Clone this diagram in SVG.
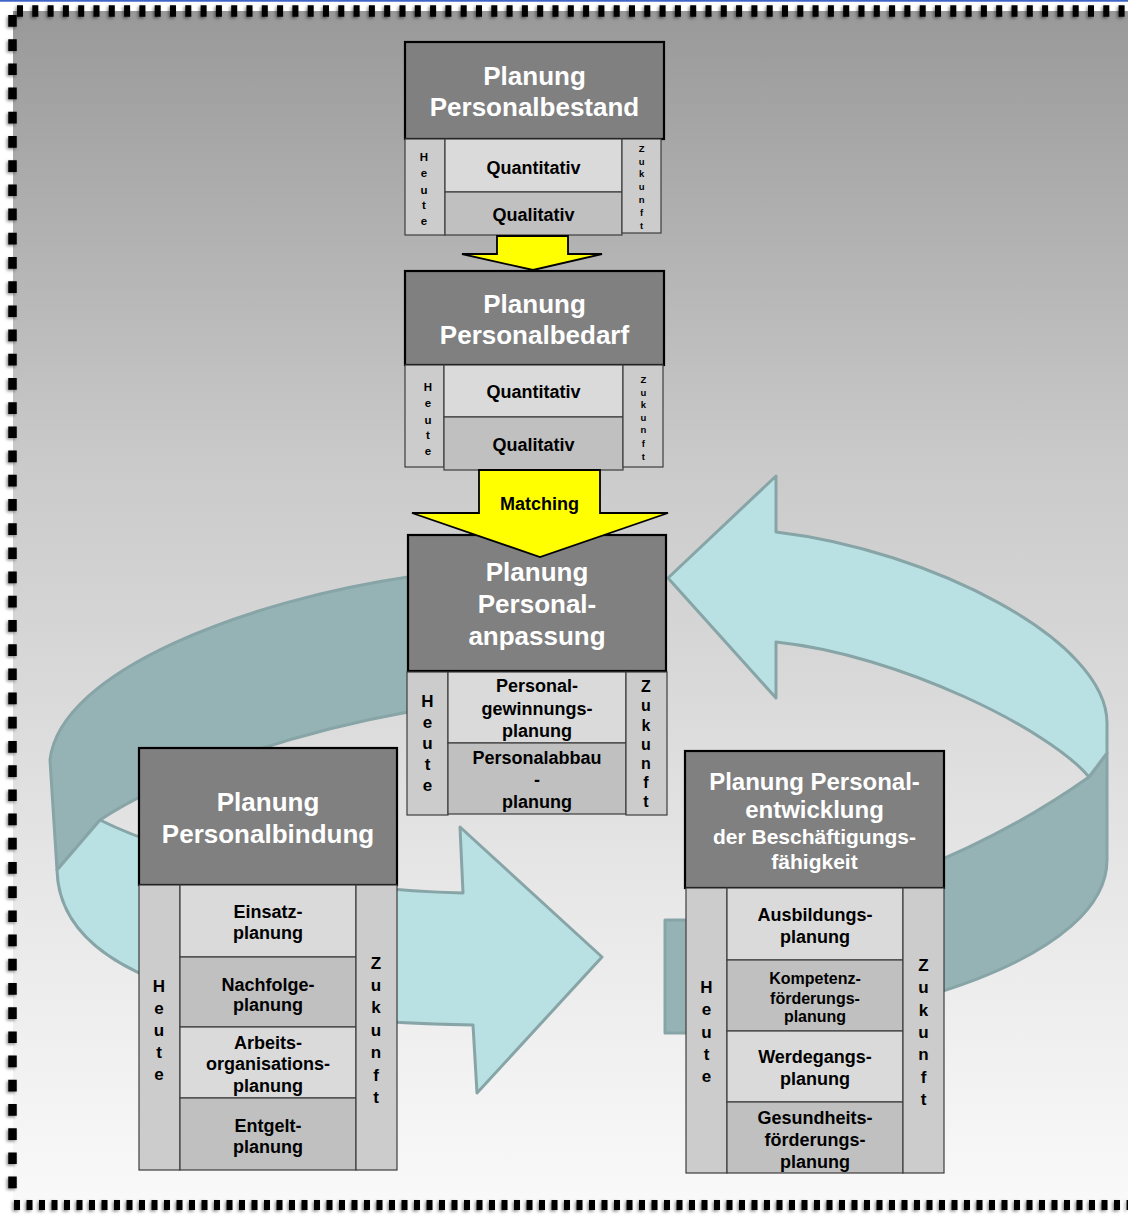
<svg xmlns="http://www.w3.org/2000/svg" width="1128" height="1215" viewBox="0 0 1128 1215">
<defs>
<linearGradient id="bg" x1="0" y1="0" x2="0" y2="1">
<stop offset="0" stop-color="#999999"/>
<stop offset="0.38" stop-color="#cacaca"/>
<stop offset="0.75" stop-color="#e8e8e8"/>
<stop offset="1" stop-color="#f9f9f9"/>
</linearGradient>
<filter id="sh" x="-5%" y="-5%" width="110%" height="110%">
<feDropShadow dx="-1.5" dy="1.5" stdDeviation="1.5" flood-color="#000" flood-opacity="0.45"/>
</filter>
</defs>
<style>
.hdr{fill:#808080;stroke:#000;stroke-width:2.2}
.col{fill:#cccccc;stroke:#3c3c3c;stroke-width:1.2}
.lt{fill:#dadada;stroke:#3c3c3c;stroke-width:1.2}
.dk{fill:#c0c0c0;stroke:#3c3c3c;stroke-width:1.2}
text{font-family:"Liberation Sans",Arial,Helvetica,sans-serif;font-weight:bold;text-anchor:middle}
.ht{fill:#ffffff;font-size:26px}
.ct{fill:#000;font-size:18px}
.vs{fill:#000;font-size:11.5px}
.vz{fill:#000;font-size:9.5px}
.vb{fill:#000;font-size:17px}
.bdk{fill:#95b3b5;stroke:#87a4a6;stroke-width:3;stroke-linejoin:round}
.blt{fill:#b9e0e3;stroke:#87a4a6;stroke-width:3;stroke-linejoin:round}
.yel{fill:#ffff00;stroke:#000;stroke-width:1.8;stroke-linejoin:miter}
.brd{stroke:#000;fill:none}
</style>

<rect x="0" y="0" width="1128" height="1215" fill="#ffffff"/>
<line x1="0" y1="0.8" x2="1128" y2="0.8" stroke="#3f66c6" stroke-width="1.8"/>
<rect x="13" y="11" width="1120" height="1190" fill="url(#bg)"/>
<g id="frame" filter="url(#sh)">
<line class="brd" x1="17" y1="11" x2="1128" y2="11" stroke-width="11.5" stroke-dasharray="6 9.3"/>
<line class="brd" x1="12.5" y1="15" x2="12.5" y2="1200" stroke-width="8.5" stroke-dasharray="11.7 12.5"/>
<line class="brd" x1="14" y1="1205" x2="1128" y2="1205" stroke-width="10" stroke-dasharray="6 6.5"/>
</g>

<g id="connectors-ribbons">
<path class="bdk" d="M 450 572 L 408 577 C 250 600 60 670 50 760 L 57 870 L 100 820 C 160 780 280 735 408 712 L 450 706 Z"/>
<path class="blt" d="M 100 820 C 180 860 330 890 463 893 L 460 827 L 602 957 L 477 1093 L 473 1025 C 300 1022 60 1000 57 870 Z"/>
<path class="bdk" d="M 1107 753 L 1107 860 C 1107 955 900 1025 686 1033 L 665 1033 L 665 920 L 686 920 C 850 915 1000 840 1089 777 Z"/>
<path class="blt" d="M 668 578 L 776 476 L 776 532 C 930 550 1107 640 1107 723 L 1107 753 L 1089 777 C 1050 730 900 655 776 642 L 776 698 Z"/>
</g>

<g id="n-bestand">
<rect class="hdr" x="405" y="42" width="259" height="97"/>
<text class="ht" x="534.5" y="85">Planung</text>
<text class="ht" x="534.5" y="116">Personalbestand</text>
<rect class="col" x="405" y="139" width="40" height="96"/>
<rect class="lt" x="445" y="139" width="177" height="53"/>
<rect class="dk" x="445" y="192" width="177" height="43"/>
<rect class="col" x="622" y="139" width="39" height="94"/>
<text class="ct" x="533.5" y="173.5">Quantitativ</text>
<text class="ct" x="533.5" y="220.5">Qualitativ</text>
<text class="vs"><tspan x="424" y="161">H</tspan><tspan x="424" y="177">e</tspan><tspan x="424" y="193.5">u</tspan><tspan x="424" y="209">t</tspan><tspan x="424" y="225">e</tspan></text>
<text class="vz"><tspan x="641.7" y="151.7">Z</tspan><tspan x="641.7" y="164.5">u</tspan><tspan x="641.7" y="177.3">k</tspan><tspan x="641.7" y="190">u</tspan><tspan x="641.7" y="203">n</tspan><tspan x="641.7" y="216">f</tspan><tspan x="641.7" y="229">t</tspan></text>
</g>

<g id="n-bedarf">
<rect class="hdr" x="405" y="271" width="259" height="94"/>
<text class="ht" x="534.5" y="313">Planung</text>
<text class="ht" x="534.5" y="344">Personalbedarf</text>
<rect class="col" x="405" y="365" width="39" height="102"/>
<rect class="lt" x="444" y="365" width="179" height="52"/>
<rect class="dk" x="444" y="417" width="179" height="53"/>
<rect class="col" x="623" y="365" width="40" height="102"/>
<text class="ct" x="533.5" y="397.5">Quantitativ</text>
<text class="ct" x="533.5" y="450.5">Qualitativ</text>
<text class="vs"><tspan x="428" y="390.7">H</tspan><tspan x="428" y="407.3">e</tspan><tspan x="428" y="424">u</tspan><tspan x="428" y="438.5">t</tspan><tspan x="428" y="455">e</tspan></text>
<text class="vz"><tspan x="643.3" y="382.7">Z</tspan><tspan x="643.3" y="396">u</tspan><tspan x="643.3" y="408.3">k</tspan><tspan x="643.3" y="420.7">u</tspan><tspan x="643.3" y="433.3">n</tspan><tspan x="643.3" y="446.7">f</tspan><tspan x="643.3" y="460">t</tspan></text>
</g>

<g id="n-anpassung">
<rect class="hdr" x="408" y="535" width="258" height="136"/>
<text class="ht" x="537" y="581">Planung</text>
<text class="ht" x="537" y="613">Personal-</text>
<text class="ht" x="537" y="645">anpassung</text>
<rect class="col" x="407" y="672" width="41" height="143"/>
<rect class="lt" x="448" y="672" width="178" height="71"/>
<rect class="dk" x="448" y="743" width="178" height="71"/>
<rect class="col" x="626" y="672" width="41" height="143"/>
<text class="ct" x="537" y="692">Personal-</text>
<text class="ct" x="537" y="714.5">gewinnungs-</text>
<text class="ct" x="537" y="737">planung</text>
<text class="ct" x="537" y="764">Personalabbau</text>
<text class="ct" x="537" y="786">-</text>
<text class="ct" x="537" y="808">planung</text>
<text class="vb"><tspan x="427.5" y="707">H</tspan><tspan x="427.5" y="728">e</tspan><tspan x="427.5" y="749">u</tspan><tspan x="427.5" y="770">t</tspan><tspan x="427.5" y="791">e</tspan></text>
<text class="vb" style="font-size:16px"><tspan x="646" y="692">Z</tspan><tspan x="646" y="711">u</tspan><tspan x="646" y="730.5">k</tspan><tspan x="646" y="749.5">u</tspan><tspan x="646" y="769">n</tspan><tspan x="646" y="788">f</tspan><tspan x="646" y="807">t</tspan></text>
</g>

<g id="n-bindung">
<rect class="hdr" x="139" y="748" width="258" height="137"/>
<text class="ht" x="268" y="811">Planung</text>
<text class="ht" x="268" y="843">Personalbindung</text>
<rect class="col" x="139" y="885" width="41" height="285"/>
<rect class="lt" x="180" y="885" width="176" height="72"/>
<rect class="dk" x="180" y="957" width="176" height="70"/>
<rect class="lt" x="180" y="1027" width="176" height="71"/>
<rect class="dk" x="180" y="1098" width="176" height="72"/>
<rect class="col" x="356" y="885" width="41" height="285"/>
<text class="ct" x="268" y="917.5">Einsatz-</text>
<text class="ct" x="268" y="938.5">planung</text>
<text class="ct" x="268" y="990.5">Nachfolge-</text>
<text class="ct" x="268" y="1011">planung</text>
<text class="ct" x="268" y="1049">Arbeits-</text>
<text class="ct" x="268" y="1070">organisations-</text>
<text class="ct" x="268" y="1091.5">planung</text>
<text class="ct" x="268" y="1132">Entgelt-</text>
<text class="ct" x="268" y="1152.5">planung</text>
<text class="vb"><tspan x="159" y="992">H</tspan><tspan x="159" y="1014">e</tspan><tspan x="159" y="1036">u</tspan><tspan x="159" y="1058">t</tspan><tspan x="159" y="1080">e</tspan></text>
<text class="vb"><tspan x="376" y="968.5">Z</tspan><tspan x="376" y="991">u</tspan><tspan x="376" y="1013.3">k</tspan><tspan x="376" y="1035.7">u</tspan><tspan x="376" y="1058">n</tspan><tspan x="376" y="1080.5">f</tspan><tspan x="376" y="1103">t</tspan></text>
</g>

<g id="n-entwicklung">
<rect class="hdr" x="685" y="751" width="259" height="137"/>
<text class="ht" x="814.5" y="789.5" style="font-size:24px">Planung Personal-</text>
<text class="ht" x="814.5" y="818" style="font-size:24px">entwicklung</text>
<text class="ht" x="814.5" y="843.5" style="font-size:21px">der Beschäftigungs-</text>
<text class="ht" x="814.5" y="869" style="font-size:21px">fähigkeit</text>
<rect class="col" x="686" y="888" width="41" height="285"/>
<rect class="lt" x="727" y="888" width="176" height="72"/>
<rect class="dk" x="727" y="960" width="176" height="71"/>
<rect class="lt" x="727" y="1031" width="176" height="71"/>
<rect class="dk" x="727" y="1102" width="176" height="71"/>
<rect class="col" x="903" y="888" width="41" height="285"/>
<text class="ct" x="815" y="921">Ausbildungs-</text>
<text class="ct" x="815" y="943">planung</text>
<text class="ct" x="815" y="984" style="font-size:16px">Kompetenz-</text>
<text class="ct" x="815" y="1003.5" style="font-size:16px">förderungs-</text>
<text class="ct" x="815" y="1022" style="font-size:16px">planung</text>
<text class="ct" x="815" y="1063">Werdegangs-</text>
<text class="ct" x="815" y="1085">planung</text>
<text class="ct" x="815" y="1123.5">Gesundheits-</text>
<text class="ct" x="815" y="1145.5">förderungs-</text>
<text class="ct" x="815" y="1167.5">planung</text>
<text class="vb"><tspan x="706.5" y="992.5">H</tspan><tspan x="706.5" y="1015">e</tspan><tspan x="706.5" y="1037.5">u</tspan><tspan x="706.5" y="1060">t</tspan><tspan x="706.5" y="1082">e</tspan></text>
<text class="vb"><tspan x="923.5" y="971">Z</tspan><tspan x="923.5" y="993.3">u</tspan><tspan x="923.5" y="1015.6">k</tspan><tspan x="923.5" y="1038">u</tspan><tspan x="923.5" y="1060.3">n</tspan><tspan x="923.5" y="1082.6">f</tspan><tspan x="923.5" y="1105">t</tspan></text>
</g>

<g id="connectors">
<polygon class="yel" points="497,236 568,236 568,254 602,254 533,270 462,254 497,254"/>
<polygon class="yel" points="479,470 600,470 600,513 668,513 540,557 412,513 479,513"/>
<text class="ct" x="539.5" y="510">Matching</text>
</g>
</svg>
